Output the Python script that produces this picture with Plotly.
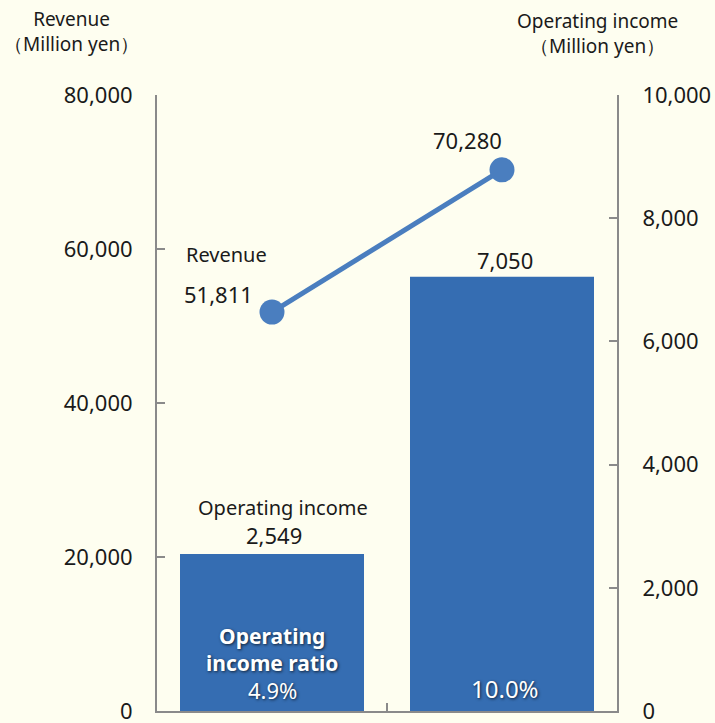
import plotly.graph_objects as go

# ---- data ----
categories = [0, 1]
revenue = [51811, 70280]
operating_income = [2549, 7050]
income_ratio = ["4.9%", "10.0%"]
left_ticks = [0, 20000, 40000, 60000, 80000]
right_ticks = [0, 2000, 4000, 6000, 8000, 10000]

FONT = "Noto Sans"
TXT = "#1a1a1a"
AX = "#8a8a8a"
BG = "#fefef0"

fig = go.Figure()

fig.add_trace(go.Bar(
    x=categories, y=operating_income, width=0.8, yaxis="y",
    marker=dict(color="#356db2", line=dict(width=0)),
    hoverinfo="skip", showlegend=False,
))

fig.add_trace(go.Scatter(
    x=categories, y=revenue, yaxis="y2", mode="lines+markers",
    line=dict(color="#4a7ebf", width=5),
    marker=dict(color="#4a7ebf", size=25),
    hoverinfo="skip", showlegend=False,
))

ann = []
def A(text, x, y, yref, xs=0, ys=0, size=22, color=TXT, bold=False, shadow=None):
    f = dict(family=FONT, size=size, color=color)
    if bold:
        f["weight"] = "bold"
    if shadow:
        f["shadow"] = shadow
    ann.append(dict(text=text, x=x, y=y, xref="x", yref=yref, xshift=xs, yshift=ys,
                    showarrow=False, xanchor="center", yanchor="middle", font=f))

# bar value labels
A(f"{operating_income[0]:,}", categories[0], operating_income[0], "y", xs=2, ys=19)
A("Operating income", categories[0], operating_income[0], "y", xs=11, ys=46, size=20)
A(f"{operating_income[1]:,}", categories[1], operating_income[1], "y", xs=3, ys=17)

# revenue labels
A(f"{revenue[0]:,}", categories[0], revenue[0], "y2", xs=-54, ys=18)
A("Revenue", categories[0], revenue[0], "y2", xs=-46, ys=58, size=20)
A(f"{revenue[1]:,}", categories[1], revenue[1], "y2", xs=-35, ys=30)

# ratio labels inside bars
sh = "1px 1px 3px rgba(0,0,0,0.7)"
A("Operating<br>income ratio", categories[0], 0, "y", ys=62, size=21, color="white", bold=True, shadow=sh)
A(income_ratio[0], categories[0], 0, "y", ys=21, size=22, color="white", shadow=sh)
A(income_ratio[1], categories[1], 0, "y", xs=3, ys=23, size=24, color="white", shadow=sh)

fig.update_layout(annotations=ann)
W, H = 715, 723
L, R, T, B = 157, 98, 95, 12
pw, ph = W - L - R, H - T - B
def px(xp): return (xp - L) / pw
def py(yp): return (H - B - yp) / ph
for text, x, y in [("Revenue<br>（Million yen）", 71, 32),
                   ("Operating income<br>（Million yen）", 597, 33)]:
    fig.add_annotation(text=text, x=px(x), y=py(y), xref="paper", yref="paper",
                       xanchor="center", yanchor="middle", showarrow=False,
                       font=dict(family=FONT, size=19, color=TXT))

fig.update_layout(
    width=W, height=H,
    margin=dict(l=L, r=R, t=T, b=B, pad=0, autoexpand=False),
    paper_bgcolor=BG, plot_bgcolor=BG,
    bargap=0.2,
    xaxis=dict(range=[-0.5, 1.5], tickvals=[0.5], ticks="inside", ticklen=8, tickwidth=2,
               tickcolor=AX, showticklabels=False, showline=True, linecolor=AX, linewidth=2,
               showgrid=False, zeroline=False, fixedrange=True, automargin=False),
    yaxis=dict(range=[0, 10000], side="right", tickvals=right_ticks, tickformat=",",
               ticks="inside", ticklen=8, tickwidth=2, tickcolor=AX, showline=True,
               linecolor=AX, linewidth=2, showgrid=False, zeroline=False,
               ticklabelstandoff=19, ticklabeloverflow="allow", automargin=False,
               tickfont=dict(family=FONT, size=22, color=TXT)),
    yaxis2=dict(range=[0, 80000], side="left", overlaying="y", tickvals=left_ticks,
                tickformat=",", ticks="inside", ticklen=8, tickwidth=2, tickcolor=AX,
                showline=True, linecolor=AX, linewidth=2, showgrid=False, zeroline=False,
                ticklabelstandoff=18, ticklabeloverflow="allow", automargin=False,
                tickfont=dict(family=FONT, size=22, color=TXT)),
    font=dict(family=FONT, color=TXT),
)

fig.write_html("out.html")
